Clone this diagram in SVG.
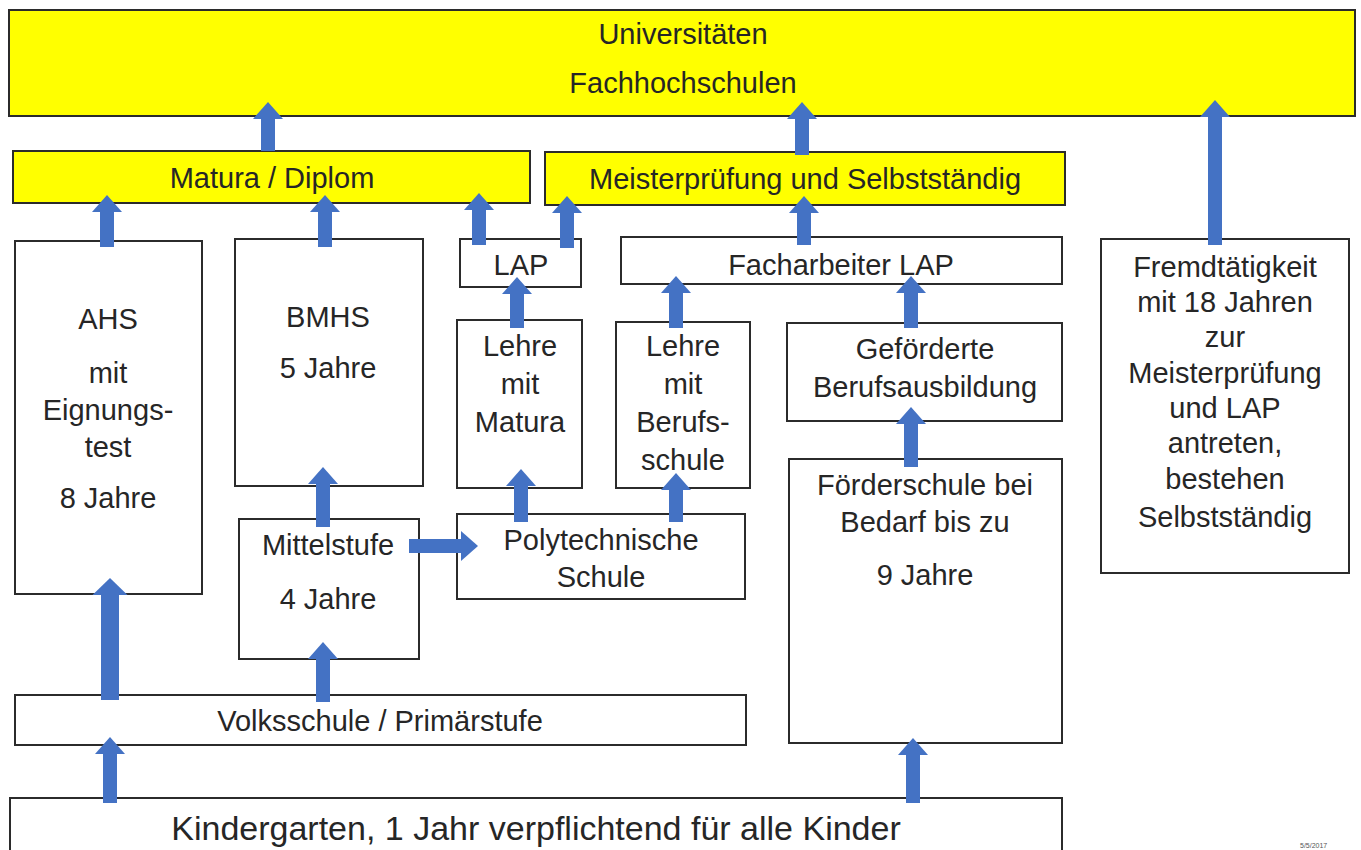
<svg xmlns="http://www.w3.org/2000/svg" width="1361" height="850" viewBox="0 0 1361 850">
<style>
.box{fill:#ffffff;stroke:#2b2b2b;stroke-width:2}
.yel{fill:#ffff00;stroke:#2b2b2b;stroke-width:2}
.t{font-family:"Liberation Sans",Arial,sans-serif;font-size:29px;fill:#262626;text-anchor:middle}
.big{font-size:34px}
.tiny{font-family:"Liberation Sans",Arial,sans-serif;font-size:7px;fill:#555}
.arr{stroke:#4472c4;stroke-width:14;fill:none}
.arr2{stroke:#4472c4;stroke-width:18;fill:none}
</style>
<defs>
<marker id="ah" markerUnits="userSpaceOnUse" markerWidth="17" markerHeight="30" refX="0" refY="15" orient="auto" overflow="visible">
<path d="M0,0 L17,15 L0,30 Z" fill="#4472c4"/>
</marker>
<marker id="ah2" markerUnits="userSpaceOnUse" markerWidth="17" markerHeight="35" refX="0" refY="17.5" orient="auto" overflow="visible">
<path d="M0,0 L17,17.5 L0,35 Z" fill="#4472c4"/>
</marker>
</defs>
<rect width="1361" height="850" fill="#ffffff"/>

<g id="uni"><rect class="yel" x="9" y="10" width="1346" height="106"/>
<text class="t" x="683" y="44">Universitäten</text>
<text class="t" x="683" y="93">Fachhochschulen</text></g>

<g id="matura"><rect class="yel" x="13" y="151" width="517" height="52"/>
<text class="t" x="272" y="188">Matura / Diplom</text></g>

<g id="meister"><rect class="yel" x="545" y="152" width="520" height="53"/>
<text class="t" x="805" y="189">Meisterprüfung und Selbstständig</text></g>

<g id="ahs"><rect class="box" x="15" y="241" width="187" height="353"/>
<text class="t" x="108" y="329">AHS</text>
<text class="t" x="108" y="383">mit</text>
<text class="t" x="108" y="420">Eignungs-</text>
<text class="t" x="108" y="457">test</text>
<text class="t" x="108" y="508">8 Jahre</text></g>

<g id="bmhs"><rect class="box" x="235" y="239" width="188" height="247"/>
<text class="t" x="328" y="327">BMHS</text>
<text class="t" x="328" y="378">5 Jahre</text></g>

<g id="lap"><rect class="box" x="460" y="239" width="121" height="48"/>
<text class="t" x="521" y="275">LAP</text></g>

<g id="facharbeiter"><rect class="box" x="621" y="237" width="441" height="47"/>
<text class="t" x="841" y="275">Facharbeiter LAP</text></g>

<g id="fremd"><rect class="box" x="1101" y="239" width="248" height="334"/>
<text class="t" x="1225" y="277">Fremdtätigkeit</text>
<text class="t" x="1225" y="312">mit 18 Jahren</text>
<text class="t" x="1225" y="347">zur</text>
<text class="t" x="1225" y="383">Meisterprüfung</text>
<text class="t" x="1225" y="418">und LAP</text>
<text class="t" x="1225" y="453">antreten,</text>
<text class="t" x="1225" y="489">bestehen</text>
<text class="t" x="1225" y="527">Selbstständig</text></g>

<g id="lehre-matura"><rect class="box" x="457" y="320" width="125" height="168"/>
<text class="t" x="520" y="356">Lehre</text>
<text class="t" x="520" y="394">mit</text>
<text class="t" x="520" y="432">Matura</text></g>

<g id="lehre-berufsschule"><rect class="box" x="616" y="322" width="134" height="166"/>
<text class="t" x="683" y="356">Lehre</text>
<text class="t" x="683" y="394">mit</text>
<text class="t" x="683" y="432">Berufs-</text>
<text class="t" x="683" y="470">schule</text></g>

<g id="gefoerderte"><rect class="box" x="787" y="323" width="275" height="98"/>
<text class="t" x="925" y="359">Geförderte</text>
<text class="t" x="925" y="397">Berufsausbildung</text></g>

<g id="foerderschule"><rect class="box" x="789" y="459" width="273" height="284"/>
<text class="t" x="925" y="495">Förderschule bei</text>
<text class="t" x="925" y="532">Bedarf bis zu</text>
<text class="t" x="925" y="585">9 Jahre</text></g>

<g id="mittelstufe"><rect class="box" x="239" y="519" width="180" height="140"/>
<text class="t" x="328" y="555">Mittelstufe</text>
<text class="t" x="328" y="609">4 Jahre</text></g>

<g id="poly"><rect class="box" x="457" y="514" width="288" height="85"/>
<text class="t" x="601" y="550">Polytechnische</text>
<text class="t" x="601" y="587">Schule</text></g>

<g id="volksschule"><rect class="box" x="15" y="695" width="731" height="50"/>
<text class="t" x="380" y="731">Volksschule / Primärstufe</text></g>

<g id="kindergarten"><rect class="box" x="10" y="798" width="1052" height="62"/>
<text class="t big" x="536" y="840">Kindergarten, 1 Jahr verpflichtend für alle Kinder</text></g>

<text class="tiny" x="1300" y="848">5/5/2017</text>

<g id="connectors">
<line class="arr" x1="268" y1="151" x2="268" y2="119" marker-end="url(#ah)"/>
<line class="arr" x1="802" y1="155" x2="802" y2="119" marker-end="url(#ah)"/>
<line class="arr" x1="1215" y1="245" x2="1215" y2="117" marker-end="url(#ah)"/>
<line class="arr" x1="107" y1="247" x2="107" y2="212" marker-end="url(#ah)"/>
<line class="arr" x1="325" y1="247" x2="325" y2="212" marker-end="url(#ah)"/>
<line class="arr" x1="479" y1="245" x2="479" y2="210" marker-end="url(#ah)"/>
<line class="arr" x1="567" y1="248" x2="567" y2="213" marker-end="url(#ah)"/>
<line class="arr" x1="804" y1="245" x2="804" y2="213" marker-end="url(#ah)"/>
<line class="arr" x1="517" y1="328" x2="517" y2="294" marker-end="url(#ah)"/>
<line class="arr" x1="676" y1="328" x2="676" y2="293" marker-end="url(#ah)"/>
<line class="arr" x1="911" y1="328" x2="911" y2="293" marker-end="url(#ah)"/>
<line class="arr" x1="911" y1="467" x2="911" y2="424" marker-end="url(#ah)"/>
<line class="arr" x1="323" y1="527" x2="323" y2="484" marker-end="url(#ah)"/>
<line class="arr" x1="521" y1="522" x2="521" y2="486" marker-end="url(#ah)"/>
<line class="arr" x1="676" y1="522" x2="676" y2="490" marker-end="url(#ah)"/>
<line class="arr" x1="323" y1="702" x2="323" y2="659" marker-end="url(#ah)"/>
<line class="arr2" x1="110" y1="700" x2="110" y2="595" marker-end="url(#ah2)"/>
<line class="arr" x1="110" y1="803" x2="110" y2="754" marker-end="url(#ah)"/>
<line class="arr" x1="913" y1="803" x2="913" y2="755" marker-end="url(#ah)"/>
<line class="arr" x1="409" y1="546" x2="461" y2="546" marker-end="url(#ah)"/>
</g>
</svg>
